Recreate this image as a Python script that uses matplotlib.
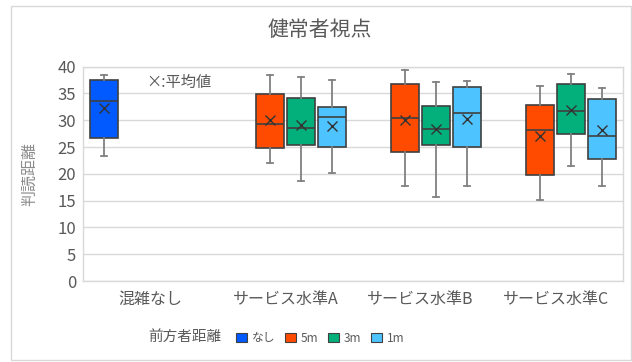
import matplotlib
matplotlib.use("Agg")
import matplotlib.pyplot as plt
from matplotlib.patches import Rectangle, Patch

plt.rcParams['font.family'] = ['Noto Sans CJK JP', 'DejaVu Sans']

title = "健常者視点"
ylabel = "判読距離"
categories = ["混雑なし", "サービス水準A", "サービス水準B", "サービス水準C"]
series = ["なし", "5m", "3m", "1m"]
colors = ["#005AFF", "#FF4B00", "#03AF7A", "#4DC4FF"]
legend_title = "前方者距離"
mean_note = "×:平均値"

# per series: values per category (None = no box)
whislo = {
    "なし": [23.4, None, None, None],
    "5m":   [None, 22.1, 17.8, 15.2],
    "3m":   [None, 18.7, 15.6, 21.4],
    "1m":   [None, 20.1, 17.8, 17.7],
}
q1 = {
    "なし": [26.7, None, None, None],
    "5m":   [None, 24.8, 24.1, 19.7],
    "3m":   [None, 25.3, 25.3, 27.4],
    "1m":   [None, 24.95, 25.1, 22.8],
}
med = {
    "なし": [33.6, None, None, None],
    "5m":   [None, 29.3, 30.4, 28.2],
    "3m":   [None, 28.6, 28.4, 31.7],
    "1m":   [None, 30.7, 31.4, 27.1],
}
mean = {
    "なし": [32.2, None, None, None],
    "5m":   [None, 30.05, 30.0, 27.1],
    "3m":   [None, 29.1, 28.3, 31.9],
    "1m":   [None, 28.9, 30.2, 28.1],
}
q3 = {
    "なし": [37.5, None, None, None],
    "5m":   [None, 34.9, 36.8, 32.8],
    "3m":   [None, 34.2, 32.7, 36.7],
    "1m":   [None, 32.5, 36.2, 34.0],
}
whishi = {
    "なし": [38.5, None, None, None],
    "5m":   [None, 38.4, 39.4, 36.4],
    "3m":   [None, 38.1, 37.2, 38.6],
    "1m":   [None, 37.5, 37.3, 36.0],
}
yticks = [0, 5, 10, 15, 20, 25, 30, 35, 40]

W, H = 632, 362
fig = plt.figure(figsize=(W / 100, H / 100), dpi=100)
ax = fig.add_axes([83 / W, 1 - 281 / H, 540 / W, (281 - 66.7) / H])

slot = 0.23
bw = 0.204
txtc = "#595959"
edge = "#404040"
for si, s in enumerate(series):
    stats, pos = [], []
    for ci in range(len(categories)):
        if med[s][ci] is None:
            continue
        stats.append(dict(whislo=whislo[s][ci], q1=q1[s][ci], med=med[s][ci],
                          mean=mean[s][ci], q3=q3[s][ci], whishi=whishi[s][ci],
                          fliers=[]))
        pos.append(ci + 0.5 + (si - 1.5) * slot)
    ax.bxp(stats, positions=pos, widths=bw, patch_artist=True, showmeans=True,
           showfliers=False, capwidths=0.05,
           boxprops=dict(facecolor=colors[si], edgecolor=edge, linewidth=1.2),
           medianprops=dict(color=edge, linewidth=1.2),
           whiskerprops=dict(color="#808080", linewidth=1.3),
           capprops=dict(color="#808080", linewidth=1.3),
           meanprops=dict(marker="x", markeredgecolor="#333333", markersize=7,
                          markeredgewidth=1.0),
           zorder=3)

ax.set_xlim(0, 4)
ax.set_ylim(0, 40)
ax.set_yticks(yticks)
ax.set_xticks([0.5, 1.5, 2.5, 3.5])
ax.set_xticklabels(categories, fontsize=11.5, color=txtc)
ax.tick_params(axis='both', length=0, colors=txtc)
ax.tick_params(axis='y', labelsize=12, pad=5)
ax.tick_params(axis='x', pad=7)
ax.yaxis.grid(True, color="#D9D9D9", linewidth=1)
ax.set_axisbelow(True)
for sp in ax.spines.values():
    sp.set_color("#D9D9D9")
    sp.set_linewidth(1)

fig.text(30 / W, 1 - 174 / H, ylabel, rotation=90, ha='center', va='center',
         fontsize=11.5, color="#8C8C8C")
fig.text(320 / W, 1 - 30 / H, title, ha='center', va='center',
         fontsize=15, color=txtc)
ax.text(0.47, 37.0, mean_note, ha='left', va='center', fontsize=11, color=txtc)

# outer border
fig.patches.append(Rectangle((11 / W, 1 - 360 / H), 620 / W, (360 - 6) / H,
                             transform=fig.transFigure, fill=False,
                             edgecolor="#D9D9D9", linewidth=1))

fig.text(148 / W, 1 - 337 / H, legend_title, ha='left', va='center',
         fontsize=10.5, color=txtc)
handles = [Patch(facecolor=colors[i], edgecolor=edge, linewidth=0.8, label=s)
           for i, s in enumerate(series)]
fig.legend(handles=handles, loc='center left', bbox_to_anchor=(236 / W, 1 - 338 / H),
           ncol=4, frameon=False, fontsize=8.5, handlelength=0.9, handleheight=0.9,
           handletextpad=0.42, columnspacing=0.85, labelcolor=txtc,
           borderaxespad=0, borderpad=0)

fig.savefig("out.png", dpi=100, facecolor="white")
